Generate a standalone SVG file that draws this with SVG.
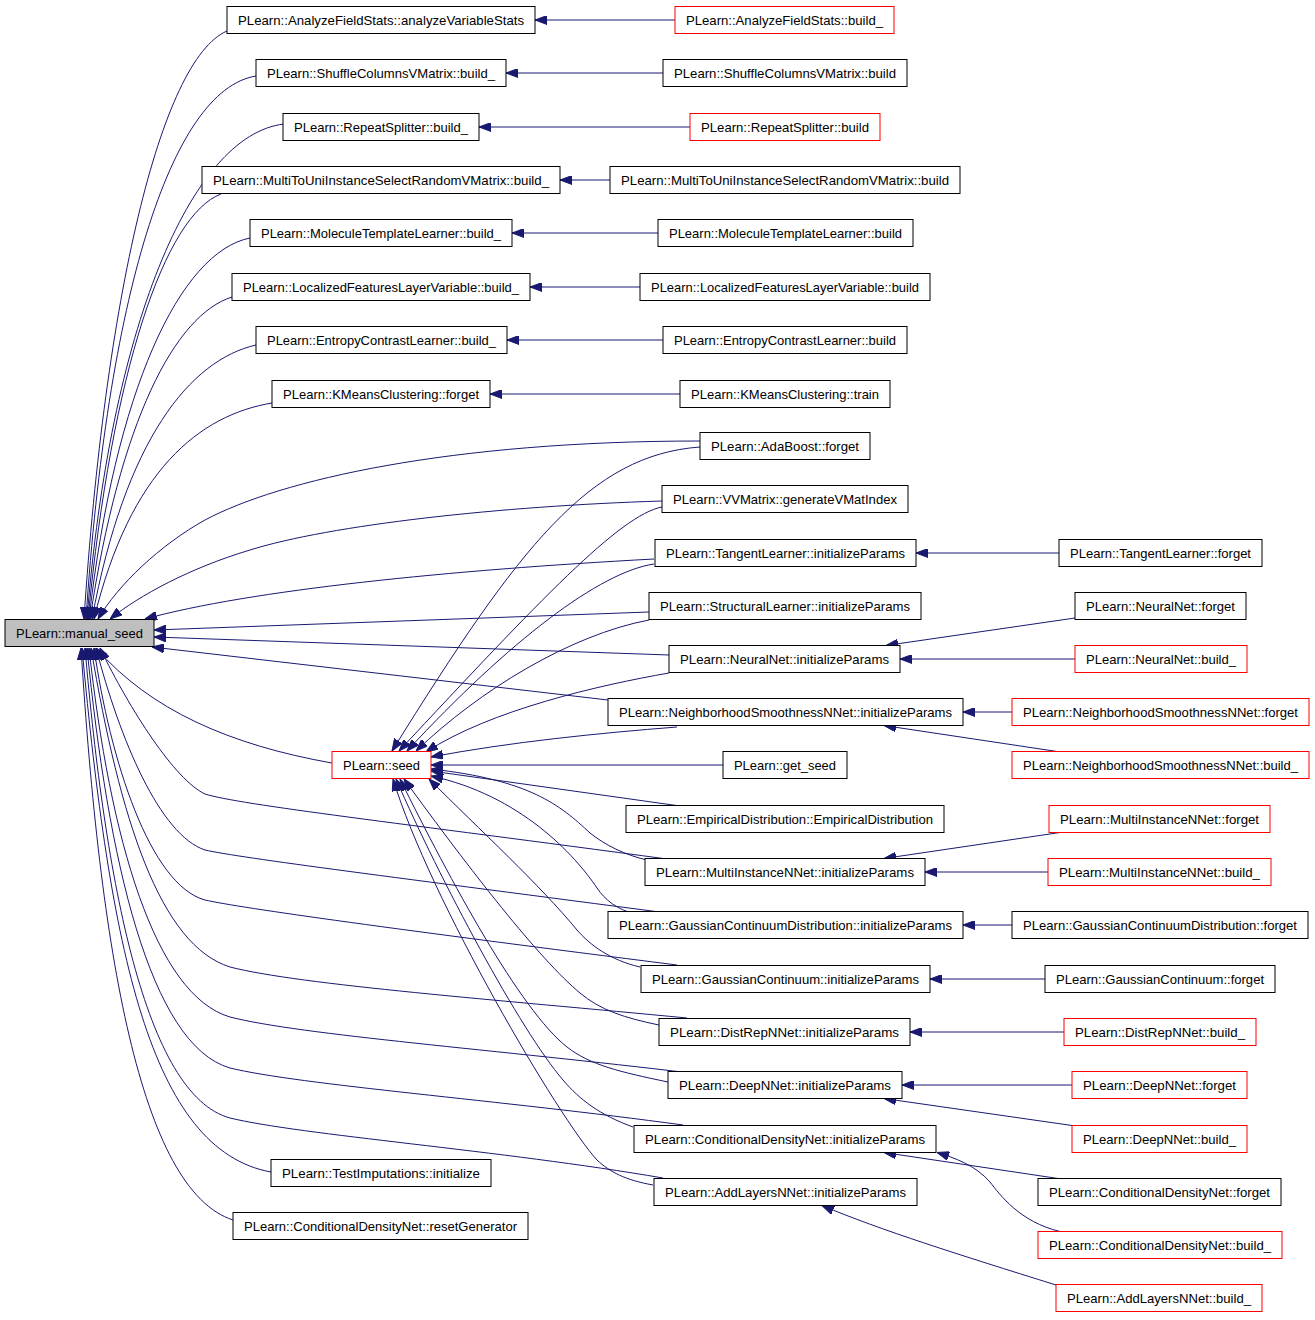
<svg xmlns="http://www.w3.org/2000/svg" width="1315" height="1320" viewBox="0 0 1315 1320">
<defs>
<marker id="ah" markerWidth="12" markerHeight="9" refX="12" refY="4.5" orient="auto" markerUnits="userSpaceOnUse">
<path d="M0,0 L12,4.5 L0,9 z" fill="#191970" stroke="#191970" stroke-width="1"/>
</marker>
</defs>
<style>
.e{fill:none;stroke:#191970;stroke-width:1;marker-end:url(#ah)}
.n rect{fill:#ffffff;stroke:#000000;stroke-width:1}
.r rect{fill:#ffffff;stroke:#ff0000;stroke-width:1}
.g rect{fill:#bfbfbf;stroke:#000000;stroke-width:1}
text{font-family:"Liberation Sans",Arial,Helvetica,sans-serif;font-size:13.5px;fill:#000000;text-anchor:middle}
</style>
<rect x="0" y="0" width="1315" height="1320" fill="#ffffff"/>
<g id="edges">
<path class="e" d="M227,31 C160,60 105,300 84,619"/>
<path class="e" d="M256,76 C170,90 107,300 86,619"/>
<path class="e" d="M284,124 C190,135 110,330 87,619"/>
<path class="e" d="M221,194 C165,215 112,370 88,619"/>
<path class="e" d="M250,238 C180,252 115,390 89,619"/>
<path class="e" d="M232,297 C175,315 120,420 90,619"/>
<path class="e" d="M256,345 C190,360 125,440 92,619"/>
<path class="e" d="M272,403 C200,415 130,470 94,619"/>
<path class="e" d="M700,441 C450,441 280,480 205,520 C160,545 118,585 98,619"/>
<path class="e" d="M662,501 C500,506 330,525 250,550 C190,568 140,595 110,619"/>
<path class="e" d="M654,559 C450,570 250,590 145,619"/>
<path class="e" d="M649,612 L154,630"/>
<path class="e" d="M669,655 L154,637"/>
<path class="e" d="M608,700 L152,647"/>
<path class="e" d="M332,763 C230,745 150,710 96,648"/>
<path class="e" d="M667,859 C400,823 240,805 205,794 C175,780 130,710 100,648"/>
<path class="e" d="M667,913 C400,878 240,858 205,850 C160,835 120,740 96,648"/>
<path class="e" d="M677,965 C400,930 240,908 205,900 C150,885 110,760 94,648"/>
<path class="e" d="M687,1018 C500,1000 300,985 230,967 C160,945 120,820 91,648"/>
<path class="e" d="M690,1073 C500,1050 300,1035 230,1017 C155,995 110,840 89,648"/>
<path class="e" d="M683,1125 C500,1100 300,1085 230,1068 C150,1045 108,860 87,648"/>
<path class="e" d="M663,1178 C500,1150 300,1135 230,1118 C145,1095 105,880 85,648"/>
<path class="e" d="M271,1172 C150,1150 110,950 82,648"/>
<path class="e" d="M233,1220 C140,1190 100,950 81,648"/>
<path class="e" d="M700,447 C590,455 520,545 392,751"/>
<path class="e" d="M662,507 C620,515 540,600 399,751"/>
<path class="e" d="M654,564 C600,572 510,640 407,751"/>
<path class="e" d="M649,620 C570,635 480,690 416,751"/>
<path class="e" d="M669,673 C600,685 490,710 426,752"/>
<path class="e" d="M677,727 C600,733 510,742 431,757"/>
<path class="e" d="M723,765 L431,765"/>
<path class="e" d="M680,806 L431,771"/>
<path class="e" d="M647,860 C625,855 605,845 590,833 C560,805 530,780 431,769"/>
<path class="e" d="M633,913 C618,910 605,900 597,888 C575,855 520,795 431,776"/>
<path class="e" d="M640,967 C610,960 590,945 577,930 C540,885 480,830 429,779"/>
<path class="e" d="M659,1025 C625,1018 600,1010 580,993 C540,960 470,870 404,779"/>
<path class="e" d="M668,1082 C620,1072 590,1065 567,1047 C520,1010 450,880 400,779"/>
<path class="e" d="M633,1127 C600,1115 580,1100 563,1080 C520,1030 440,880 396,779"/>
<path class="e" d="M653,1185 C625,1180 610,1172 597,1160 C560,1120 430,900 393,779"/>
<path class="e" d="M675,20 L535,20"/>
<path class="e" d="M663,73 L506,73"/>
<path class="e" d="M690,127 L479,127"/>
<path class="e" d="M610,180 L560,180"/>
<path class="e" d="M658,233 L512,233"/>
<path class="e" d="M640,287 L530,287"/>
<path class="e" d="M663,340 L507,340"/>
<path class="e" d="M680,394 L490,394"/>
<path class="e" d="M1059,553 L916,553"/>
<path class="e" d="M1075,618 L886,645.5"/>
<path class="e" d="M1075,659 L900,659"/>
<path class="e" d="M1012,712 L963,712"/>
<path class="e" d="M1057,751.5 L884,725.5"/>
<path class="e" d="M1060,832.5 L884,858.5"/>
<path class="e" d="M1048,872 L925,872"/>
<path class="e" d="M1012,925 L963,925"/>
<path class="e" d="M1045,979 L930,979"/>
<path class="e" d="M1064,1032 L910,1032"/>
<path class="e" d="M1072,1085 L902,1085"/>
<path class="e" d="M1072,1125.5 L884,1098.5"/>
<path class="e" d="M1058,1178.5 L884,1152.5"/>
<path class="e" d="M1060,1231.5 C1020,1222 1000,1195 990,1182 C975,1165 955,1158 937,1152.5"/>
<path class="e" d="M1056,1285 C960,1255 880,1230 822,1205.5"/>
</g>
<g id="n_manual_seed" class="g"><rect x="5" y="619.5" width="149" height="27"/><text x="79.5" y="638" textLength="127" lengthAdjust="spacingAndGlyphs">PLearn::manual_seed</text></g>
<g id="n_seed" class="r"><rect x="332" y="751.5" width="99" height="27"/><text x="381.5" y="770" textLength="77" lengthAdjust="spacingAndGlyphs">PLearn::seed</text></g>
<g id="n_avs" class="n"><rect x="227" y="6.5" width="308" height="27"/><text x="381" y="25" textLength="286" lengthAdjust="spacingAndGlyphs">PLearn::AnalyzeFieldStats::analyzeVariableStats</text></g>
<g id="n_afsb" class="r"><rect x="675" y="6.5" width="219" height="27"/><text x="784.5" y="25" textLength="197" lengthAdjust="spacingAndGlyphs">PLearn::AnalyzeFieldStats::build_</text></g>
<g id="n_scb_" class="n"><rect x="256" y="59.5" width="250" height="27"/><text x="381" y="78" textLength="228" lengthAdjust="spacingAndGlyphs">PLearn::ShuffleColumnsVMatrix::build_</text></g>
<g id="n_scb" class="n"><rect x="663" y="59.5" width="244" height="27"/><text x="785" y="78" textLength="222" lengthAdjust="spacingAndGlyphs">PLearn::ShuffleColumnsVMatrix::build</text></g>
<g id="n_rsb_" class="n"><rect x="283" y="113.5" width="196" height="27"/><text x="381" y="132" textLength="174" lengthAdjust="spacingAndGlyphs">PLearn::RepeatSplitter::build_</text></g>
<g id="n_rsb" class="r"><rect x="690" y="113.5" width="190" height="27"/><text x="785" y="132" textLength="168" lengthAdjust="spacingAndGlyphs">PLearn::RepeatSplitter::build</text></g>
<g id="n_mtub_" class="n"><rect x="202" y="166.5" width="358" height="27"/><text x="381" y="185" textLength="336" lengthAdjust="spacingAndGlyphs">PLearn::MultiToUniInstanceSelectRandomVMatrix::build_</text></g>
<g id="n_mtub" class="n"><rect x="610" y="166.5" width="350" height="27"/><text x="785" y="185" textLength="328" lengthAdjust="spacingAndGlyphs">PLearn::MultiToUniInstanceSelectRandomVMatrix::build</text></g>
<g id="n_mtlb_" class="n"><rect x="250" y="219.5" width="262" height="27"/><text x="381" y="238" textLength="240" lengthAdjust="spacingAndGlyphs">PLearn::MoleculeTemplateLearner::build_</text></g>
<g id="n_mtlb" class="n"><rect x="658" y="219.5" width="255" height="27"/><text x="785.5" y="238" textLength="233" lengthAdjust="spacingAndGlyphs">PLearn::MoleculeTemplateLearner::build</text></g>
<g id="n_lflb_" class="n"><rect x="232" y="273.5" width="298" height="27"/><text x="381" y="292" textLength="276" lengthAdjust="spacingAndGlyphs">PLearn::LocalizedFeaturesLayerVariable::build_</text></g>
<g id="n_lflb" class="n"><rect x="640" y="273.5" width="290" height="27"/><text x="785" y="292" textLength="268" lengthAdjust="spacingAndGlyphs">PLearn::LocalizedFeaturesLayerVariable::build</text></g>
<g id="n_eclb_" class="n"><rect x="256" y="326.5" width="251" height="27"/><text x="381.5" y="345" textLength="229" lengthAdjust="spacingAndGlyphs">PLearn::EntropyContrastLearner::build_</text></g>
<g id="n_eclb" class="n"><rect x="663" y="326.5" width="244" height="27"/><text x="785" y="345" textLength="222" lengthAdjust="spacingAndGlyphs">PLearn::EntropyContrastLearner::build</text></g>
<g id="n_kmf" class="n"><rect x="272" y="380.5" width="218" height="27"/><text x="381" y="399" textLength="196" lengthAdjust="spacingAndGlyphs">PLearn::KMeansClustering::forget</text></g>
<g id="n_kmt" class="n"><rect x="680" y="380.5" width="210" height="27"/><text x="785" y="399" textLength="188" lengthAdjust="spacingAndGlyphs">PLearn::KMeansClustering::train</text></g>
<g id="n_abf" class="n"><rect x="700" y="432.5" width="170" height="27"/><text x="785" y="451" textLength="148" lengthAdjust="spacingAndGlyphs">PLearn::AdaBoost::forget</text></g>
<g id="n_vvm" class="n"><rect x="662" y="485.5" width="246" height="27"/><text x="785" y="504" textLength="224" lengthAdjust="spacingAndGlyphs">PLearn::VVMatrix::generateVMatIndex</text></g>
<g id="n_tli" class="n"><rect x="655" y="539.5" width="261" height="27"/><text x="785.5" y="558" textLength="239" lengthAdjust="spacingAndGlyphs">PLearn::TangentLearner::initializeParams</text></g>
<g id="n_tlf" class="n"><rect x="1059" y="539.5" width="203" height="27"/><text x="1160.5" y="558" textLength="181" lengthAdjust="spacingAndGlyphs">PLearn::TangentLearner::forget</text></g>
<g id="n_sli" class="n"><rect x="649" y="592.5" width="272" height="27"/><text x="785" y="611" textLength="250" lengthAdjust="spacingAndGlyphs">PLearn::StructuralLearner::initializeParams</text></g>
<g id="n_nnf" class="n"><rect x="1075" y="592.5" width="171" height="27"/><text x="1160.5" y="611" textLength="149" lengthAdjust="spacingAndGlyphs">PLearn::NeuralNet::forget</text></g>
<g id="n_nni" class="n"><rect x="669" y="645.5" width="231" height="27"/><text x="784.5" y="664" textLength="209" lengthAdjust="spacingAndGlyphs">PLearn::NeuralNet::initializeParams</text></g>
<g id="n_nnb" class="r"><rect x="1075" y="645.5" width="172" height="27"/><text x="1161" y="664" textLength="150" lengthAdjust="spacingAndGlyphs">PLearn::NeuralNet::build_</text></g>
<g id="n_nsi" class="n"><rect x="608" y="698.5" width="355" height="27"/><text x="785.5" y="717" textLength="333" lengthAdjust="spacingAndGlyphs">PLearn::NeighborhoodSmoothnessNNet::initializeParams</text></g>
<g id="n_nsf" class="r"><rect x="1012" y="698.5" width="297" height="27"/><text x="1160.5" y="717" textLength="275" lengthAdjust="spacingAndGlyphs">PLearn::NeighborhoodSmoothnessNNet::forget</text></g>
<g id="n_gs" class="n"><rect x="723" y="751.5" width="124" height="27"/><text x="785" y="770" textLength="102" lengthAdjust="spacingAndGlyphs">PLearn::get_seed</text></g>
<g id="n_nsb" class="r"><rect x="1012" y="751.5" width="297" height="27"/><text x="1160.5" y="770" textLength="275" lengthAdjust="spacingAndGlyphs">PLearn::NeighborhoodSmoothnessNNet::build_</text></g>
<g id="n_ed" class="n"><rect x="626" y="805.5" width="318" height="27"/><text x="785" y="824" textLength="296" lengthAdjust="spacingAndGlyphs">PLearn::EmpiricalDistribution::EmpiricalDistribution</text></g>
<g id="n_mif" class="r"><rect x="1049" y="805.5" width="221" height="27"/><text x="1159.5" y="824" textLength="199" lengthAdjust="spacingAndGlyphs">PLearn::MultiInstanceNNet::forget</text></g>
<g id="n_mii" class="n"><rect x="645" y="858.5" width="280" height="27"/><text x="785" y="877" textLength="258" lengthAdjust="spacingAndGlyphs">PLearn::MultiInstanceNNet::initializeParams</text></g>
<g id="n_mib" class="r"><rect x="1048" y="858.5" width="223" height="27"/><text x="1159.5" y="877" textLength="201" lengthAdjust="spacingAndGlyphs">PLearn::MultiInstanceNNet::build_</text></g>
<g id="n_gcdi" class="n"><rect x="608" y="911.5" width="355" height="27"/><text x="785.5" y="930" textLength="333" lengthAdjust="spacingAndGlyphs">PLearn::GaussianContinuumDistribution::initializeParams</text></g>
<g id="n_gcdf" class="n"><rect x="1012" y="911.5" width="296" height="27"/><text x="1160" y="930" textLength="274" lengthAdjust="spacingAndGlyphs">PLearn::GaussianContinuumDistribution::forget</text></g>
<g id="n_gci" class="n"><rect x="641" y="965.5" width="289" height="27"/><text x="785.5" y="984" textLength="267" lengthAdjust="spacingAndGlyphs">PLearn::GaussianContinuum::initializeParams</text></g>
<g id="n_gcf" class="n"><rect x="1045" y="965.5" width="230" height="27"/><text x="1160" y="984" textLength="208" lengthAdjust="spacingAndGlyphs">PLearn::GaussianContinuum::forget</text></g>
<g id="n_dri" class="n"><rect x="659" y="1018.5" width="251" height="27"/><text x="784.5" y="1037" textLength="229" lengthAdjust="spacingAndGlyphs">PLearn::DistRepNNet::initializeParams</text></g>
<g id="n_drb" class="r"><rect x="1064" y="1018.5" width="192" height="27"/><text x="1160" y="1037" textLength="170" lengthAdjust="spacingAndGlyphs">PLearn::DistRepNNet::build_</text></g>
<g id="n_dni" class="n"><rect x="668" y="1071.5" width="234" height="27"/><text x="785" y="1090" textLength="212" lengthAdjust="spacingAndGlyphs">PLearn::DeepNNet::initializeParams</text></g>
<g id="n_dnf" class="r"><rect x="1072" y="1071.5" width="175" height="27"/><text x="1159.5" y="1090" textLength="153" lengthAdjust="spacingAndGlyphs">PLearn::DeepNNet::forget</text></g>
<g id="n_dnb" class="r"><rect x="1072" y="1125.5" width="175" height="27"/><text x="1159.5" y="1144" textLength="153" lengthAdjust="spacingAndGlyphs">PLearn::DeepNNet::build_</text></g>
<g id="n_cdi" class="n"><rect x="634" y="1125.5" width="302" height="27"/><text x="785" y="1144" textLength="280" lengthAdjust="spacingAndGlyphs">PLearn::ConditionalDensityNet::initializeParams</text></g>
<g id="n_cdf" class="n"><rect x="1038" y="1178.5" width="243" height="27"/><text x="1159.5" y="1197" textLength="221" lengthAdjust="spacingAndGlyphs">PLearn::ConditionalDensityNet::forget</text></g>
<g id="n_ali" class="n"><rect x="654" y="1178.5" width="263" height="27"/><text x="785.5" y="1197" textLength="241" lengthAdjust="spacingAndGlyphs">PLearn::AddLayersNNet::initializeParams</text></g>
<g id="n_cdb" class="r"><rect x="1038" y="1231.5" width="244" height="27"/><text x="1160" y="1250" textLength="222" lengthAdjust="spacingAndGlyphs">PLearn::ConditionalDensityNet::build_</text></g>
<g id="n_alb" class="r"><rect x="1056" y="1284.5" width="206" height="27"/><text x="1159" y="1303" textLength="184" lengthAdjust="spacingAndGlyphs">PLearn::AddLayersNNet::build_</text></g>
<g id="n_ti" class="n"><rect x="271" y="1159.5" width="220" height="27"/><text x="381" y="1178" textLength="198" lengthAdjust="spacingAndGlyphs">PLearn::TestImputations::initialize</text></g>
<g id="n_rg" class="n"><rect x="233" y="1212.5" width="295" height="27"/><text x="380.5" y="1231" textLength="273" lengthAdjust="spacingAndGlyphs">PLearn::ConditionalDensityNet::resetGenerator</text></g>
</svg>
